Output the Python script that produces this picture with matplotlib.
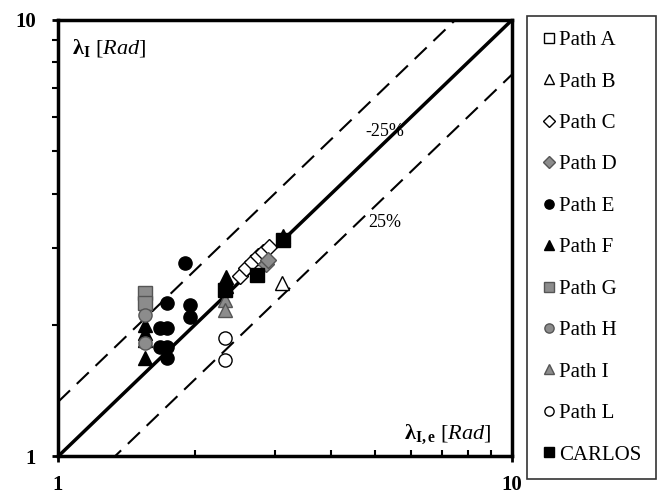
import numpy as np
import matplotlib
matplotlib.use("Agg")
import matplotlib.pyplot as plt

plt.rcParams['font.family'] = ['Liberation Serif', 'DejaVu Serif']
plt.rcParams['mathtext.fontset'] = 'custom'
plt.rcParams['mathtext.rm'] = 'Liberation Serif'
plt.rcParams['mathtext.it'] = 'Liberation Serif:italic'
plt.rcParams['mathtext.bf'] = 'Liberation Serif:bold'

# data (x = lambda_I,e, y = lambda_I)
path_a_x = [2.74, 2.81]
path_a_y = [2.79, 2.85]
path_b_x = [3.11]
path_b_y = [2.50]
path_c_x = [2.52, 2.60, 2.68, 2.76, 2.83, 2.92]
path_c_y = [2.59, 2.70, 2.79, 2.88, 2.94, 3.02]
path_d_x = [2.87, 2.90]
path_d_y = [2.76, 2.82]
path_e_x = [1.905, 1.738, 1.953, 1.953, 1.677, 1.738, 1.677, 1.738, 1.738]
path_e_y = [2.78, 2.25, 2.22, 2.09, 1.97, 1.97, 1.78, 1.78, 1.68]
path_f_x = [1.555, 1.555, 1.555, 1.555, 2.345, 2.345, 3.13]
path_f_y = [2.00, 1.92, 1.85, 1.68, 2.58, 2.46, 3.20]
path_g_x = [1.555, 1.555]
path_g_y = [2.37, 2.25]
path_h_x = [1.555, 1.555]
path_h_y = [2.11, 1.82]
path_i_x = [2.33, 2.33]
path_i_y = [2.28, 2.17]
path_l_x = [2.33, 2.33]
path_l_y = [1.87, 1.66]
carlos_x = [2.33, 2.744, 3.13]
carlos_y = [2.41, 2.605, 3.13]

gray = '#8c8c8c'
gedge = '#555555'

fig = plt.figure(figsize=(6.62, 4.97), dpi=100)
ax = fig.add_axes([0.0876, 0.0815, 0.6858, 0.8783])

# reference lines
ref = np.array([1.0, 10.0])
ax.plot(ref, ref, color='black', lw=2.5, zorder=1)
ax.plot(ref, ref / 0.75, color='black', lw=1.5, dashes=(8, 4.5), zorder=1)
ax.plot(ref, ref * 0.75, color='black', lw=1.5, dashes=(8, 4.5), zorder=1)

ms = 9.5
series = [
    (path_a_x, path_a_y, 's', 'white', 'black', 'Path A'),
    (path_b_x, path_b_y, '^', 'white', 'black', 'Path B'),
    (path_c_x, path_c_y, 'D', 'white', 'black', 'Path C'),
    (path_d_x, path_d_y, 'D', gray, gedge, 'Path D'),
    (path_e_x, path_e_y, 'o', 'black', 'black', 'Path E'),
    (path_f_x, path_f_y, '^', 'black', 'black', 'Path F'),
    (path_g_x, path_g_y, 's', gray, gedge, 'Path G'),
    (path_h_x, path_h_y, 'o', gray, gedge, 'Path H'),
    (path_i_x, path_i_y, '^', gray, gedge, 'Path I'),
    (path_l_x, path_l_y, 'o', 'white', 'black', 'Path L'),
    (carlos_x, carlos_y, 's', 'black', 'black', 'CARLOS'),
]
for xs, ys, mk, fc, ec, lab in series:
    size = ms * 0.9 if mk == 'D' else ms
    ax.plot(xs, ys, linestyle='none', marker=mk, markersize=size,
            markerfacecolor=fc, markeredgecolor=ec, markeredgewidth=1,
            label=lab, zorder=3)

ax.set_xscale('log')
ax.set_yscale('log')
ax.set_xlim(1, 10)
ax.set_ylim(1, 10)

for s in ax.spines.values():
    s.set_linewidth(2.5)

ax.set_xticks([1, 10])
ax.set_yticks([1, 10])
ax.set_xticklabels(['1', '10'], fontsize=15, fontweight='bold')
ax.set_yticklabels(['1', '10'], fontsize=15, fontweight='bold')
ax.tick_params(which='major', direction='inout', length=8, width=2)
ax.tick_params(axis='x', which='major', pad=9.5)
ax.tick_params(axis='y', which='major', pad=12)
ax.tick_params(axis='x', which='minor', direction='in', length=4, width=1.5,
               labelbottom=False)
ax.tick_params(axis='y', which='minor', direction='out', length=4, width=1.5,
               labelleft=False)

ax.text(0.03, 0.935, r'$\mathbf{λ_{I}}$ $\mathit{[Rad]}$', transform=ax.transAxes,
        fontsize=16, va='center', ha='left')
ax.text(0.955, 0.05, r'$\mathbf{λ_{I,e}}$ $\mathit{[Rad]}$', transform=ax.transAxes,
        fontsize=16, va='center', ha='right')
ax.text(0.72, 0.745, '-25%', transform=ax.transAxes, fontsize=13, ha='center',
        va='center')
ax.text(0.72, 0.535, '25%', transform=ax.transAxes, fontsize=13, ha='center',
        va='center')

leg = ax.legend(loc='upper left', bbox_to_anchor=(0.796, 0.968),
                bbox_transform=fig.transFigure, fancybox=False,
                edgecolor='black', fontsize=15, markerscale=0.7,
                handlelength=0.7, handletextpad=0.15, labelspacing=1.05,
                borderpad=0.7, borderaxespad=0)
leg.get_frame().set_linewidth(1.2)

fig.savefig('out.png', dpi=100)
